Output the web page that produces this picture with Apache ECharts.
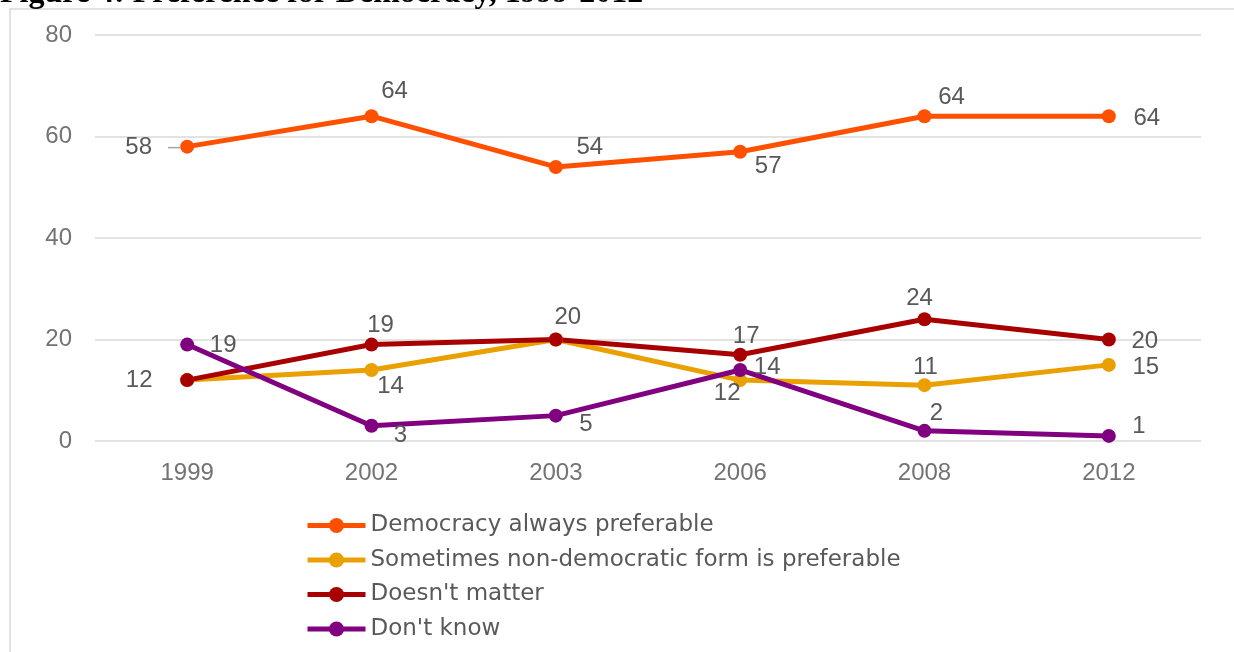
<!DOCTYPE html>
<html>
<head>
<meta charset="utf-8">
<script src="https://cdn.jsdelivr.net/npm/echarts@6/dist/echarts.min.js"></script>
<style>html,body{margin:0;padding:0;background:#fff}#c{width:1234px;height:652px}</style>
</head>
<body>
<div id="c"></div>
<script>
// ---- data ----
const years = ['1999', '2002', '2003', '2006', '2008', '2012'];
const democracy = [58, 64, 54, 57, 64, 64];
const sometimes = [12, 14, 20, 12, 11, 15];
const doesntMatter = [12, 19, 20, 17, 24, 20];
const dontKnow = [19, 3, 5, 14, 2, 1];
const seriesNames = ['Democracy always preferable', 'Sometimes non-democratic form is preferable', "Doesn't matter", "Don't know"];
const yTicks = [0, 20, 40, 60, 80];
const titleText = 'Figure 4: Preference for Democracy, 1999-2012';

// ---- label placement (layout only) ----
const offsets = [
  [[-34, 1], [23, -25], [34, -20], [28, 15], [27, -19], [38, 2]],
  [[-48, 0], [19, 16], null, [-13, 13], [1, -18], [37, 2]],
  [null, [9, -19], [12, -22], [6, -18], [-5, -21], [36, 2]],
  [[36, 1], [29, 10], [30, 9], [27, -3], [12, -17], [30, -10]]
];
const colors = ['#FF5000', '#E9A000', '#A80000', '#800080'];
const values = [democracy, sometimes, doesntMatter, dontKnow];

function buildData(vals, offs, si) {
  return vals.map((v, i) => {
    const o = offs[i];
    if (!o) return { value: v, label: { show: false } };
    const item = { value: v, label: { show: true, position: 'inside', offset: o } };
    if (si === 0 && i === 0) {
      item.label.formatter = '{a|{c}}{g|}{l|}';
      item.label.rich = {
        a: { color: '#595959', fontSize: 24, fontFamily: '"Liberation Sans", Arial, sans-serif' },
        g: { width: 16, height: 2 },
        l: { width: 13, height: 1.5, backgroundColor: '#A6A6A6', verticalAlign: 'middle' }
      };
    }
    return item;
  });
}

const chart = echarts.init(document.getElementById('c'), null, { renderer: 'canvas' });
const option = {
  animation: false,
  color: colors,
  graphic: [
    {
      type: 'rect', silent: true, z: -1,
      shape: { x: 10, y: 9, width: 1400, height: 800 },
      style: { fill: 'none', stroke: '#D9D9D9', lineWidth: 1.5 }
    },
    {
      type: 'text', silent: true,
      style: {
        x: 0, y: 10, text: titleText,
        font: 'bold 32px "Liberation Serif", "Times New Roman", serif',
        fill: '#000', verticalAlign: 'bottom', align: 'left'
      }
    }
  ],
  grid: { left: 95, right: 33, top: 35, bottom: 211 },
  xAxis: {
    type: 'category',
    data: years,
    boundaryGap: true,
    axisLine: { show: false },
    axisTick: { show: false },
    axisLabel: { color: '#737373', fontSize: 24, fontFamily: '"Liberation Sans", Arial, sans-serif', margin: 20 }
  },
  yAxis: {
    type: 'value',
    min: yTicks[0], max: yTicks[yTicks.length - 1], interval: 20,
    axisLine: { show: false },
    axisTick: { show: false },
    splitLine: { lineStyle: { color: '#D9D9D9', width: 1.5 } },
    axisLabel: { color: '#737373', fontSize: 24, fontFamily: '"Liberation Sans", Arial, sans-serif', margin: 23 }
  },
  legend: {
    orient: 'vertical',
    left: 305, top: 514, padding: 0,
    itemWidth: 58, itemHeight: 19, itemGap: 11.5,
    data: seriesNames,
    lineStyle: { width: 5 },
    textStyle: { color: '#595959', fontSize: 23, lineHeight: 22, fontFamily: '"DejaVu Sans", sans-serif' }
  },
  series: values.map((vals, si) => ({
    name: seriesNames[si],
    type: 'line',
    data: buildData(vals, offsets[si], si),
    symbol: 'circle',
    symbolSize: 14,
    lineStyle: { width: 5, color: colors[si] },
    itemStyle: { color: colors[si] },
    label: {
      color: '#595959', fontSize: 24,
      fontFamily: '"Liberation Sans", Arial, sans-serif'
    },
    emphasis: { disabled: true }
  }))
};
chart.setOption(option);
</script>
</body>
</html>
